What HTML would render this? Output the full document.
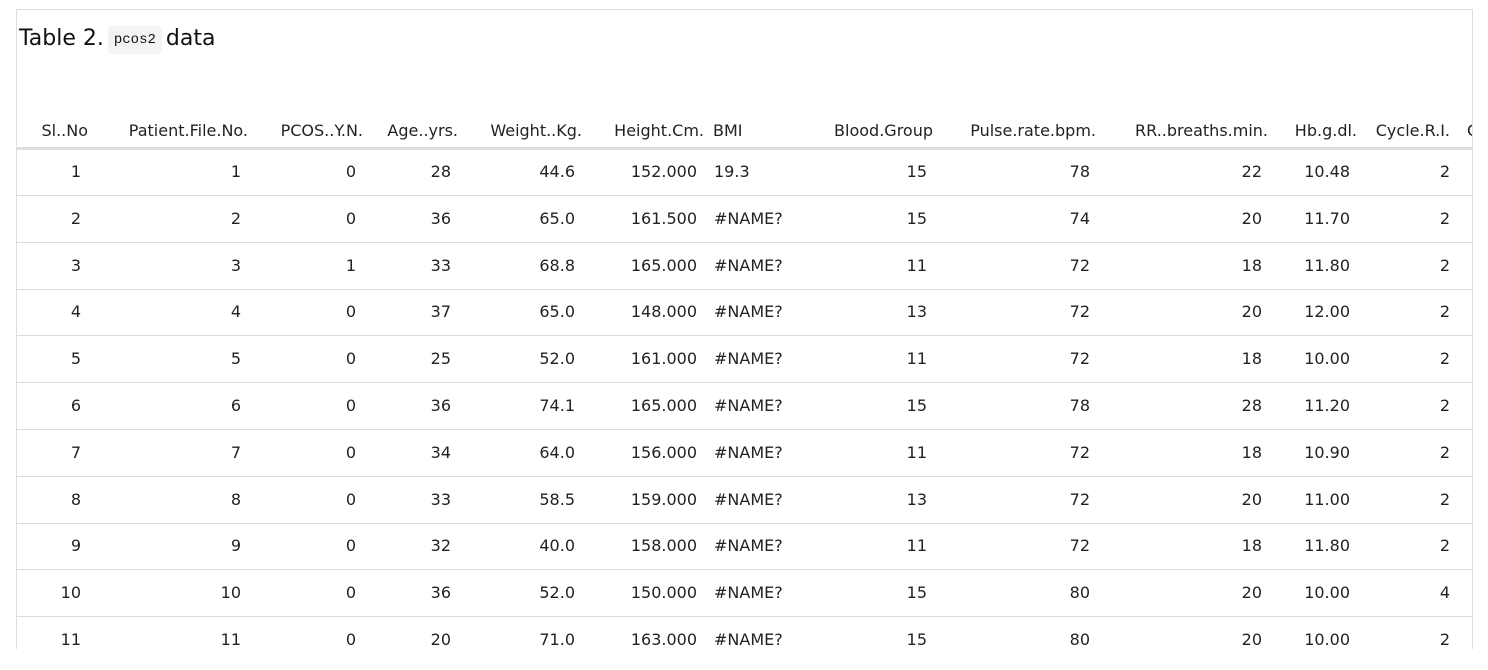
<!DOCTYPE html>
<html><head><meta charset="utf-8">
<style>
html,body{margin:0;background:#fff;width:1488px;height:670px;overflow:hidden;font-family:"DejaVu Sans","Liberation Sans",sans-serif;color:#222;}
#box{position:absolute;left:16px;top:9px;width:1455px;height:639px;border:1px solid #ddd;border-bottom:none;overflow:hidden;}
#title{position:absolute;left:2px;top:16px;font-size:22px;color:#111;white-space:nowrap;}
#title code{font-family:"Liberation Mono",monospace;font-size:14px;background:#f3f3f3;border-radius:4px;padding:6px 6px;margin:0 4px;vertical-align:2px;}
.c{position:absolute;font-size:16px;white-space:nowrap;}
.r{text-align:right;}
.hline{position:absolute;left:0;width:1455px;height:1px;background:#ddd;}
</style></head><body>
<div id="box">
<div id="title">Table 2.<code>pcos2</code>data</div>
</div>
<script>
const headers=["Sl..No","Patient.File.No.","PCOS..Y.N.","Age..yrs.","Weight..Kg.","Height.Cm.","BMI","Blood.Group","Pulse.rate.bpm.","RR..breaths.min.","Hb.g.dl.","Cycle.R.I.","Cycle.length.days."];
const slNo=[1,2,3,4,5,6,7,8,9,10,11];
const fileNo=[1,2,3,4,5,6,7,8,9,10,11];
const pcos=[0,0,1,0,0,0,0,0,0,0,0];
const age=[28,36,33,37,25,36,34,33,32,36,20];
const weight=["44.6","65.0","68.8","65.0","52.0","74.1","64.0","58.5","40.0","52.0","71.0"];
const height=["152.000","161.500","165.000","148.000","161.000","165.000","156.000","159.000","158.000","150.000","163.000"];
const bmi=["19.3","#NAME?","#NAME?","#NAME?","#NAME?","#NAME?","#NAME?","#NAME?","#NAME?","#NAME?","#NAME?"];
const blood=[15,15,11,13,11,15,11,13,11,15,15];
const pulse=[78,74,72,72,72,78,72,72,72,80,80];
const rr=[22,20,18,20,18,28,18,20,18,20,20];
const hb=["10.48","11.70","11.80","12.00","10.00","11.20","10.90","11.00","11.80","10.00","10.00"];
const cycle=[2,2,2,2,2,2,2,2,2,4,2];
const cols=[slNo,fileNo,pcos,age,weight,height,bmi,blood,pulse,rr,hb,cycle];
const valRight=[80,240,355,450,574,696,null,926,1089,1261,1349,1449].map(v=>v===null?null:v-16);
const hdrRight=[87,247,362,457,581,703,null,932,1095,1267,1356,1449].map(v=>v===null?null:v-16);
const box=document.getElementById('box');
function cell(txt,right,left,top){
  const d=document.createElement('div');
  d.className='c'+(right!==null?' r':'');
  d.textContent=txt;
  if(right!==null){d.style.right=(1455-right)+'px';}else{d.style.left=left+'px';}
  d.style.top=top+'px';
  box.appendChild(d);return d;
}
headers.forEach((h,i)=>{
  let d;
  if(i===6) d=cell(h,null,696,111);
  else if(i===12) d=cell(h,null,1450,111);
  else d=cell(h,hdrRight[i],0,111);
  
  
});
const hl=document.createElement('div');hl.className='hline';hl.style.top='137px';hl.style.height='3px';


box.appendChild(hl);
const rowH=46.8;
for(let r=0;r<slNo.length;r++){
  const top=152+r*rowH;
  cols.forEach((col,i)=>{
    let d;
    if(i===6) d=cell(col[r],null,697,top);
    else d=cell(col[r],valRight[i],0,top);
    
    
  });
  const l=document.createElement('div');l.className='hline';l.style.top=(185+r*rowH)+'px';
  
  
  box.appendChild(l);
}
</script>
</body></html>
